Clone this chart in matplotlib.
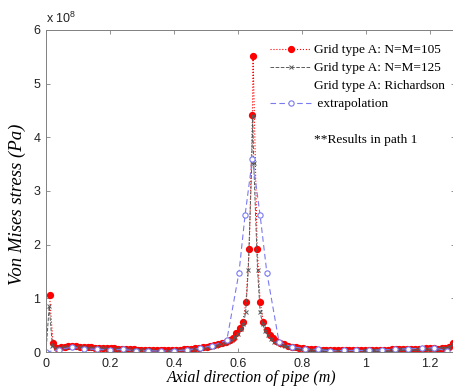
import numpy as np
import matplotlib
matplotlib.use("Agg")
import matplotlib.pyplot as plt
from matplotlib.lines import Line2D

plt.rcParams['mathtext.fontset'] = 'custom'
plt.rcParams['mathtext.rm'] = 'Liberation Sans'

# Von Mises stress along path 1, in units of 1e8 Pa
# grid type A, N=M=105
x_105 = [0.011, 0.022, 0.034, 0.046, 0.058, 0.070, 0.082, 0.094, 0.106, 0.118,
         0.130, 0.142, 0.154, 0.166, 0.178, 0.190, 0.202, 0.214, 0.226, 0.238,
         0.250, 0.262, 0.274, 0.286, 0.298, 0.310, 0.322, 0.334, 0.346, 0.358,
         0.370, 0.382, 0.394, 0.406, 0.418, 0.430, 0.442, 0.454, 0.466, 0.478,
         0.490, 0.502, 0.514, 0.526, 0.538, 0.550, 0.562, 0.574, 0.585, 0.595,
         0.605, 0.615, 0.625, 0.635, 0.645, 0.647, 0.660, 0.669, 0.679, 0.689,
         0.699, 0.709, 0.720, 0.732, 0.744, 0.756, 0.768, 0.780, 0.792, 0.804,
         0.816, 0.828, 0.840, 0.852, 0.864, 0.876, 0.888, 0.900, 0.912, 0.924,
         0.936, 0.948, 0.960, 0.972, 0.984, 0.996, 1.008, 1.020, 1.032, 1.044,
         1.056, 1.068, 1.080, 1.092, 1.104, 1.116, 1.128, 1.140, 1.152, 1.164,
         1.176, 1.188, 1.200, 1.212, 1.224, 1.236, 1.248, 1.260, 1.272]
s_105 = [1.06, 0.17, 0.08, 0.09, 0.10, 0.11, 0.11, 0.11, 0.10, 0.10,
         0.09, 0.09, 0.08, 0.08, 0.08, 0.07, 0.07, 0.07, 0.06, 0.06,
         0.05, 0.05, 0.05, 0.04, 0.04, 0.03, 0.03, 0.03, 0.03, 0.03,
         0.03, 0.03, 0.03, 0.04, 0.04, 0.05, 0.05, 0.06, 0.07, 0.08,
         0.09, 0.10, 0.11, 0.13, 0.15, 0.17, 0.19, 0.22, 0.27, 0.35,
         0.45, 0.56, 0.94, 1.92, 4.41, 5.51, 1.92, 0.94, 0.56, 0.41,
         0.32, 0.26, 0.20, 0.17, 0.14, 0.12, 0.10, 0.09, 0.08, 0.07,
         0.06, 0.05, 0.05, 0.04, 0.04, 0.03, 0.03, 0.03, 0.03, 0.03,
         0.03, 0.03, 0.03, 0.03, 0.03, 0.03, 0.03, 0.03, 0.04, 0.04,
         0.04, 0.04, 0.05, 0.05, 0.05, 0.05, 0.05, 0.06, 0.06, 0.06,
         0.06, 0.07, 0.07, 0.07, 0.06, 0.08, 0.08, 0.10, 0.17]

# grid type A, N=M=125
x_125 = [0.000, 0.010, 0.020, 0.032, 0.045, 0.057, 0.070, 0.082, 0.095, 0.107,
         0.120, 0.132, 0.145, 0.157, 0.170, 0.182, 0.195, 0.207, 0.220, 0.232,
         0.245, 0.257, 0.270, 0.282, 0.295, 0.307, 0.320, 0.332, 0.345, 0.357,
         0.370, 0.382, 0.395, 0.407, 0.420, 0.432, 0.445, 0.457, 0.470, 0.482,
         0.495, 0.507, 0.520, 0.532, 0.545, 0.557, 0.570, 0.582, 0.592, 0.601,
         0.609, 0.617, 0.624, 0.632, 0.643, 0.646, 0.649, 0.661, 0.669, 0.677,
         0.685, 0.694, 0.703, 0.713, 0.724, 0.736, 0.748, 0.760, 0.772, 0.785,
         0.797, 0.810, 0.822, 0.835, 0.847, 0.860, 0.872, 0.885, 0.897, 0.910,
         0.922, 0.935, 0.947, 0.960, 0.972, 0.985, 0.997, 1.010, 1.022, 1.035,
         1.047, 1.060, 1.072, 1.085, 1.097, 1.110, 1.122, 1.135, 1.147, 1.160,
         1.172, 1.185, 1.197, 1.210, 1.222, 1.235, 1.247, 1.260, 1.272]
s_125 = [0.00, 0.85, 0.12, 0.07, 0.08, 0.09, 0.10, 0.10, 0.10, 0.09,
         0.09, 0.08, 0.08, 0.07, 0.07, 0.07, 0.06, 0.06, 0.06, 0.05,
         0.05, 0.05, 0.04, 0.04, 0.04, 0.03, 0.03, 0.03, 0.02, 0.02,
         0.02, 0.02, 0.03, 0.03, 0.03, 0.04, 0.04, 0.05, 0.06, 0.07,
         0.08, 0.09, 0.10, 0.12, 0.14, 0.16, 0.19, 0.23, 0.28, 0.34,
         0.42, 0.52, 0.75, 1.53, 3.52, 4.40, 3.52, 1.53, 0.75, 0.52,
         0.40, 0.31, 0.24, 0.19, 0.16, 0.13, 0.11, 0.09, 0.08, 0.07,
         0.06, 0.05, 0.04, 0.04, 0.03, 0.03, 0.03, 0.02, 0.02, 0.02,
         0.02, 0.02, 0.02, 0.02, 0.02, 0.02, 0.03, 0.03, 0.03, 0.03,
         0.04, 0.04, 0.04, 0.04, 0.04, 0.05, 0.05, 0.05, 0.05, 0.06,
         0.06, 0.06, 0.06, 0.05, 0.06, 0.07, 0.07, 0.09, 0.15]

# Richardson extrapolation
x_rich = [0.000, 0.040, 0.080, 0.120, 0.160, 0.200, 0.240, 0.280, 0.320, 0.360,
          0.400, 0.440, 0.480, 0.520, 0.565, 0.603, 0.622, 0.645, 0.669, 0.690,
          0.728, 0.768, 0.810, 0.850, 0.888, 0.930, 0.970, 1.010, 1.050, 1.090,
          1.130, 1.174, 1.213, 1.252]
s_rich = [0.00, 0.04, 0.09, 0.06, 0.05, 0.04, 0.05, 0.02, 0.02, 0.02,
          0.02, 0.04, 0.07, 0.12, 0.22, 1.48, 2.55, 3.60, 2.55, 1.48,
          0.19, 0.10, 0.06, 0.05, 0.02, 0.03, 0.03, 0.03, 0.04, 0.05,
          0.06, 0.07, 0.08, 0.02]

xticks = [0, 0.2, 0.4, 0.6, 0.8, 1.0, 1.2]
xtick_labels = ['0', '0.2', '0.4', '0.6', '0.8', '1', '1.2']
yticks = [0, 1, 2, 3, 4, 5, 6]

c_red = '#ff0000'
c_gray = '#5a5a5a'
c_blue = '#7a7af2'

red_style = dict(linestyle=':', color=c_red, linewidth=0.8, marker='o',
                 markersize=4.2, markerfacecolor=c_red, markeredgecolor=c_red)
gray_style = dict(linestyle='--', color=c_gray, linewidth=0.7, marker='x',
                  markersize=3.3, markeredgewidth=0.7)
blue_style = dict(linestyle='--', dashes=(5, 3), color=c_blue, linewidth=0.8,
                  marker='o', markersize=3.8, markerfacecolor='white',
                  markeredgecolor=c_blue, markeredgewidth=0.8)

fig = plt.figure(figsize=(4.53, 3.90), dpi=100)
ax = fig.add_axes([0.1015, 0.0974, 0.903, 0.826])

ax.plot(x_105, s_105, **red_style)
ax.plot(x_125, s_125, **gray_style)
ax.plot(x_rich, s_rich, **blue_style)

ax.set_xlim(0, 1.278)
ax.set_ylim(0, 6)
ax.set_xticks(xticks)
ax.set_xticklabels(xtick_labels)
ax.set_yticks(yticks)
ax.tick_params(direction='in', length=3, width=0.6, color='#808080',
               top=True, right=True, labelsize=9, labelcolor='#222222', pad=4)
for lab in ax.get_xticklabels() + ax.get_yticklabels():
    lab.set_fontfamily('Liberation Sans')
for sp in ax.spines.values():
    sp.set_color('#808080')
    sp.set_linewidth(0.7)

ax.text(0.0, 1.012, r'x 10$^{8}$', transform=ax.transAxes, ha='left', va='bottom',
        fontsize=9, family='Liberation Sans', color='#222222')

ax.set_xlabel('Axial direction of pipe (m)', family='Liberation Serif',
              style='italic', fontsize=11.5)
ax.xaxis.set_label_coords(0.504, -0.055)
ax.set_ylabel('Von Mises stress (Pa)', family='Liberation Serif',
              style='italic', fontsize=13.5)
ax.yaxis.set_label_coords(-0.05, 0.46)

# legend: Richardson label split over two rows, last row is a note
blank = Line2D([], [], linestyle='none')
handles = [Line2D([], [], **red_style), Line2D([], [], **gray_style), blank,
           Line2D([], [], **blue_style), blank, blank]
labels = ['Grid type A: N=M=105', 'Grid type A: N=M=125',
          'Grid type A: Richardson', ' extrapolation', ' ',
          '**Results in path 1']
leg = ax.legend(handles, labels, loc='upper left', bbox_to_anchor=(0.596, 0.887),
                bbox_transform=fig.transFigure, frameon=False,
                prop={'family': 'Liberation Serif', 'size': 9.6},
                handlelength=3.1, handletextpad=0.2, labelspacing=0.42,
                borderpad=0, borderaxespad=0)

fig.savefig('out.png', dpi=100)
